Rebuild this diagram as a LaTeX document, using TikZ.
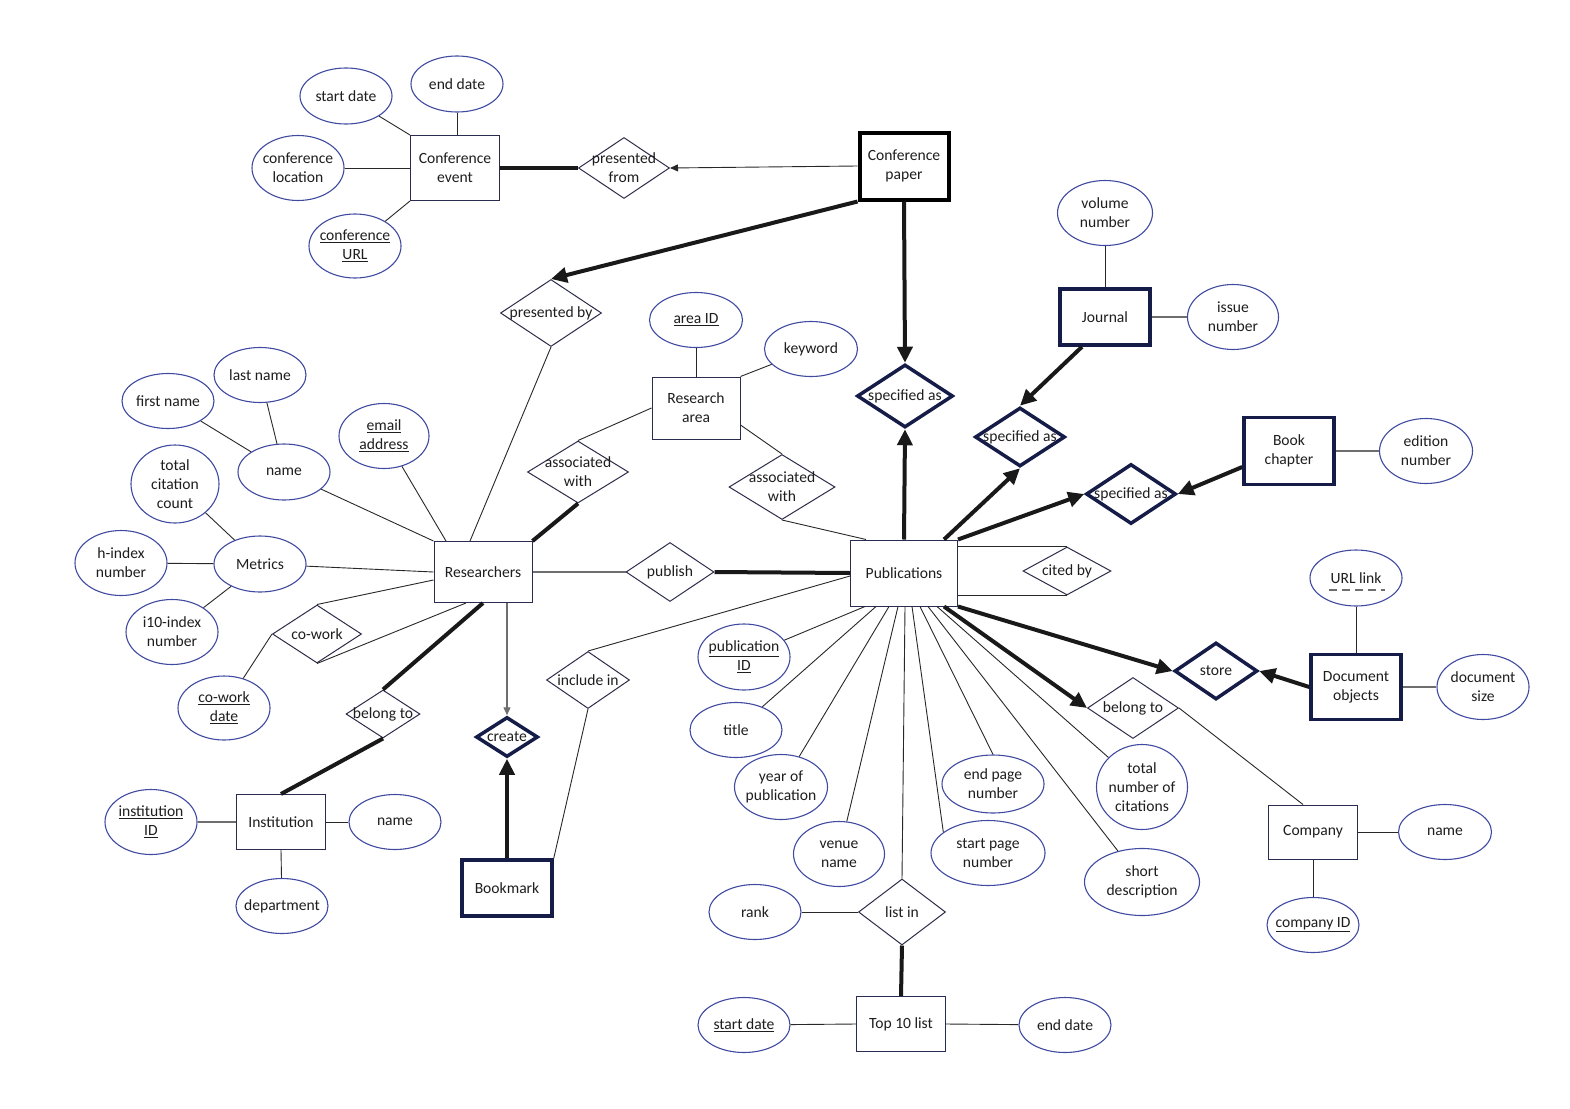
\documentclass[tikz,border=0pt]{standalone}
\usepackage{fontspec}
\setmainfont{Carlito}
\usetikzlibrary{shapes.geometric,arrows.meta,calc}
\definecolor{ellc}{RGB}{64,74,160}
\definecolor{entc}{RGB}{40,44,80}
\definecolor{navy}{RGB}{22,28,72}
\definecolor{relc}{RGB}{45,45,75}
\definecolor{txtc}{RGB}{30,30,30}
\definecolor{lnc}{RGB}{40,40,40}
\definecolor{lngc}{RGB}{110,110,110}
\tikzset{
 attrs/.style={ellipse, draw=ellc, line width=1.1pt, fill=white, inner sep=0pt},
 ent/.style={rectangle, draw=entc, line width=1pt, fill=white, align=center, inner sep=0pt, text=txtc},
 boldent/.style={ent, draw=navy, line width=3.5pt},
 relat/.style={diamond, draw=relc, line width=1pt, fill=white, inner sep=0pt},
 boldrel/.style={relat, draw=navy, line width=3.5pt},
 txt/.style={align=center, inner sep=0pt, text=txtc},
 ln/.style={draw=lnc, line width=0.9pt},
 lng/.style={draw=lngc, line width=1.2pt},
 thk/.style={draw=black!90, line width=4pt},
 thka/.style={thk, -{Triangle[length=16pt,width=15pt]}},
 thina/.style={ln, -{Triangle[length=8pt,width=7pt]}},
 thinga/.style={lng, -{Triangle[length=8pt,width=7pt]}},
}
\newcommand{\attr}[5]{\node[attrs, minimum width=#3pt, minimum height=#4pt, label={[txt]center:#5}] (#1) at (#2) {};}
\newcommand{\relnode}[6][relat]{\node[#1, minimum width=#4pt, minimum height=#5pt, label={[txt]center:#6}] (#2) at (#3) {};}
\begin{document}
\begin{tikzpicture}[x=1pt, y=-1pt, font=\fontsize{15.6}{19}\selectfont]
\fill[white] (0,0) rectangle (1570,1108);
\useasboundingbox (0,0) rectangle (1570,1108);

% entities
\node[ent, minimum width=89pt, minimum height=65pt] (ce) at (455,168) {Conference\\event};
\node[ent, draw=black, line width=4pt, minimum width=89pt, minimum height=67pt] (cp) at (904,166) {Conference\\paper};
\node[boldent, minimum width=90pt, minimum height=56pt] (jour) at (1105,317) {Journal};
\node[boldent, minimum width=90pt, minimum height=67pt] (book) at (1289,451) {Book\\chapter};
\node[ent, minimum width=88pt, minimum height=62pt] (ra) at (696,408) {Research\\area};
\node[ent, minimum width=98pt, minimum height=61pt] (res) at (483,572) {Researchers};
\node[ent, minimum width=107pt, minimum height=66pt] (pub) at (904,573) {Publications};
\node[boldent, minimum width=90pt, minimum height=65pt] (doc) at (1356,687) {Document\\objects};
\node[ent, minimum width=89pt, minimum height=55pt] (inst) at (281,822) {Institution};
\node[boldent, minimum width=90pt, minimum height=56pt] (bm) at (507,888) {Bookmark};
\node[ent, minimum width=89pt, minimum height=54pt] (comp) at (1313,832) {Company};
\node[ent, minimum width=89pt, minimum height=55pt] (top) at (901,1024) {Top 10 list};

% relationships
\relnode{pf}{624,168}{91}{61}{presented\\from}
\relnode{pby}{551,313}{101}{67}{presented by}
\relnode{asl}{578,472}{101}{62}{associated\\with}
\relnode{asr}{782,487}{106}{65}{associated\\with}
\relnode{pubr}{670,572}{88}{59}{publish}
\relnode{cow}{317,634}{89}{58}{co-work}
\relnode{bel1}{383,714}{74}{48}{belong to}
\relnode[boldrel]{cr}{507,737}{62}{40}{create}
\relnode{inc}{588,680}{83}{57}{include in}
\relnode[boldrel]{spc}{905,396}{96}{63}{specified as}
\relnode[boldrel]{spj}{1020,437}{90}{59}{specified as}
\relnode[boldrel]{spb}{1131,494}{90}{60}{specified as}
\relnode{cited}{1067,571}{88}{48}{cited by}
\relnode[boldrel]{store}{1216,671}{83}{57}{store}
\relnode{bel2}{1133,708}{91}{61}{belong to}
\relnode{li}{902,912}{87}{66}{list in}

% attributes
\attr{sd1}{346,96}{92}{56}{start date}
\attr{ed1}{457,84}{92}{56}{end date}
\attr{cl}{298,168}{92}{65}{conference\\location}
\attr{curl}{355,246}{92}{64}{\underline{conference}\\\underline{URL}}
\attr{vol}{1105,213}{95}{65}{volume\\number}
\attr{iss}{1233,317}{91}{65}{issue\\number}
\attr{edn}{1426,451}{93}{65}{edition\\number}
\attr{aid}{696,320}{93}{55}{\underline{area ID}}
\attr{kw}{811,349}{93}{55}{keyword}
\attr{lnm}{260,375}{92}{55}{last name}
\attr{fnm}{168,401}{92}{55}{first name}
\attr{nm}{284,472}{92}{56}{name}
\attr{em}{384,436}{90}{65}{\underline{email}\\\underline{address}}
\attr{tcc}{175,484}{88}{78}{total\\citation\\count}
\attr{met}{260,564}{92}{56}{Metrics}
\attr{hidx}{121,563}{92}{65}{h-index\\number}
\attr{i10}{172,632}{92}{65}{i10-index\\number}
\attr{cwd}{224,708}{92}{64}{\underline{co-work}\\\underline{date}}
\attr{iid}{151,822}{92}{65}{\underline{institution}\\\underline{ID}}
\attr{iname}{395,822}{92}{55}{name}
\attr{dept}{282,906}{92}{55}{department}
\attr{pid}{744,657}{92}{66}{\underline{publication}\\\underline{ID}}
\attr{ttl}{736,730}{92}{55}{title}
\attr{yop}{781,787}{93}{65}{year of\\publication}
\attr{ven}{839,854}{91}{65}{venue\\name}
\attr{epn}{993,784}{102}{58}{end page\\number}
\attr{spn}{988,853}{114}{65}{start page\\number}
\attr{tnc}{1142,787}{91}{85}{total\\number of\\citations}
\attr{sdesc}{1142,882}{115}{67}{short\\description}
\attr{rank}{755,912}{92}{55}{rank}
\attr{sd2}{744,1025}{92}{55}{\underline{start date}}
\attr{ed2}{1065,1025}{92}{55}{end date}
\attr{url}{1356,578}{92}{56}{URL link}
\attr{dsz}{1483,687}{92}{65}{document\\size}
\attr{cname}{1445,832}{93}{55}{name}
\attr{cid}{1313,925}{92}{55}{\underline{company ID}}
\draw[draw=lngc, line width=1.3pt, dash pattern=on 8pt off 5pt] ([xshift=-27pt,yshift=-12pt]url.center) -- ([xshift=29pt,yshift=-12pt]url.center);

% conference event
\draw[ln] (sd1) -- (ce.north west);
\draw[ln] (ed1.south) -- (ed1.south |- ce.north);
\draw[ln] (cl) -- (ce.west);
\draw[ln] (curl) -- (ce.south west);
\draw[thk] (ce.east) -- (pf.west);
\draw[thina] (cp.west) -- (pf.east);
\draw[thka] (cp.south west) -- (pby.north);
\draw[thka] (cp.south) -- (spc.north);
\draw[thka] (pub.north) -- (spc.south);

% journal / book
\draw[ln] (vol) -- (jour.north);
\draw[lng] (jour.east) -- (iss);
\draw[thka] ([xshift=-23pt]jour.south) -- (spj.north);
\draw[thka] ([xshift=40pt]pub.north) -- (spj.south);
\draw[thka] ([yshift=-16pt]book.west) -- (spb.east);
\draw[thka] (pub.north east) -- (spb.west);
\draw[lng] (book.east) -- (edn);

% research area
\draw[ln] (aid) -- (ra.north);
\draw[ln] (kw) -- (ra.north east);
\draw[ln] (ra.west) -- (asl.north);
\draw[thk] (asl.south) -- (res.north east);
\draw[ln] ([yshift=-17pt]ra.east) -- (asr.north);
\draw[ln] (asr.south) -- ([xshift=-38pt]pub.north);

% researchers
\draw[ln] (pby.south) -- ([xshift=-13pt]res.north);
\draw[ln] (nm) -- (res.north west);
\draw[ln] (em) -- ([xshift=-37pt]res.north);
\draw[ln] (met) -- (res.west);
\draw[ln] ([yshift=-8pt]res.west) -- (cow.north);
\draw[ln] ([xshift=-17pt]res.south) -- (cow.south);
\draw[ln] (cow.west) -- (cwd);
\draw[ln] (nm) -- (fnm);
\draw[ln] (nm) -- (lnm);
\draw[ln] (met) -- (tcc);
\draw[ln] (met) -- (hidx);
\draw[ln] (met) -- (i10);
\draw[lng] (res.east) -- (pubr.west);
\draw[thk] (pubr.east) -- (pub.west);
\draw[thinga] ([xshift=24pt]res.south) -- (cr.north);
\draw[thka] (bm.north) -- (cr.south);
\draw[thk] (res.south) -- (bel1.north);
\draw[thk] (bel1.south) -- (inst.north);
\draw[lng] (iid) -- (inst.west);
\draw[ln] (inst.east) -- (iname);
\draw[ln] (inst.south) -- (dept);
\draw[ln] ([yshift=-3pt]pub.west) -- (inc.north);
\draw[ln] (inc.south) -- (bm.north east);

% publications
\draw[ln] (pub.east |- cited.north) -- (cited.north);
\draw[ln] (pub.east |- cited.south) -- (cited.south);
\draw[thka] (pub.south east) -- (store.west);
\draw[thka] (doc.west) -- (store.east);
\draw[ln] (url) -- (doc.north);
\draw[lng] (doc.east) -- (dsz);
\draw[thka] ([xshift=40pt]pub.south) -- (bel2.west);
\draw[ln] (bel2.east) -- ([xshift=-10pt]comp.north);
\draw[ln] (comp.east) -- (cname);
\draw[ln] (comp.south) -- (cid);
\draw[ln] ([xshift=-39pt]pub.south) -- (pid);
\draw[ln] ([xshift=-28pt]pub.south) -- (ttl);
\draw[ln] ([xshift=-15pt]pub.south) -- (yop);
\draw[ln] ([xshift=-6pt]pub.south) -- (ven);
\draw[ln] ([xshift=1pt]pub.south) -- (li.north);
\draw[ln] ([xshift=8pt]pub.south) -- (spn.155);
\draw[ln] ([xshift=16pt]pub.south) -- (epn.north);
\draw[ln] ([xshift=24pt]pub.south) -- (sdesc);
\draw[ln] ([xshift=33pt]pub.south) -- (tnc);

% top 10
\draw[ln] (rank) -- (li.west);
\draw[thk] (li.south) -- (top.north);
\draw[ln] (sd2) -- (top.west);
\draw[ln] (top.east) -- (ed2);
\end{tikzpicture}
\end{document}
